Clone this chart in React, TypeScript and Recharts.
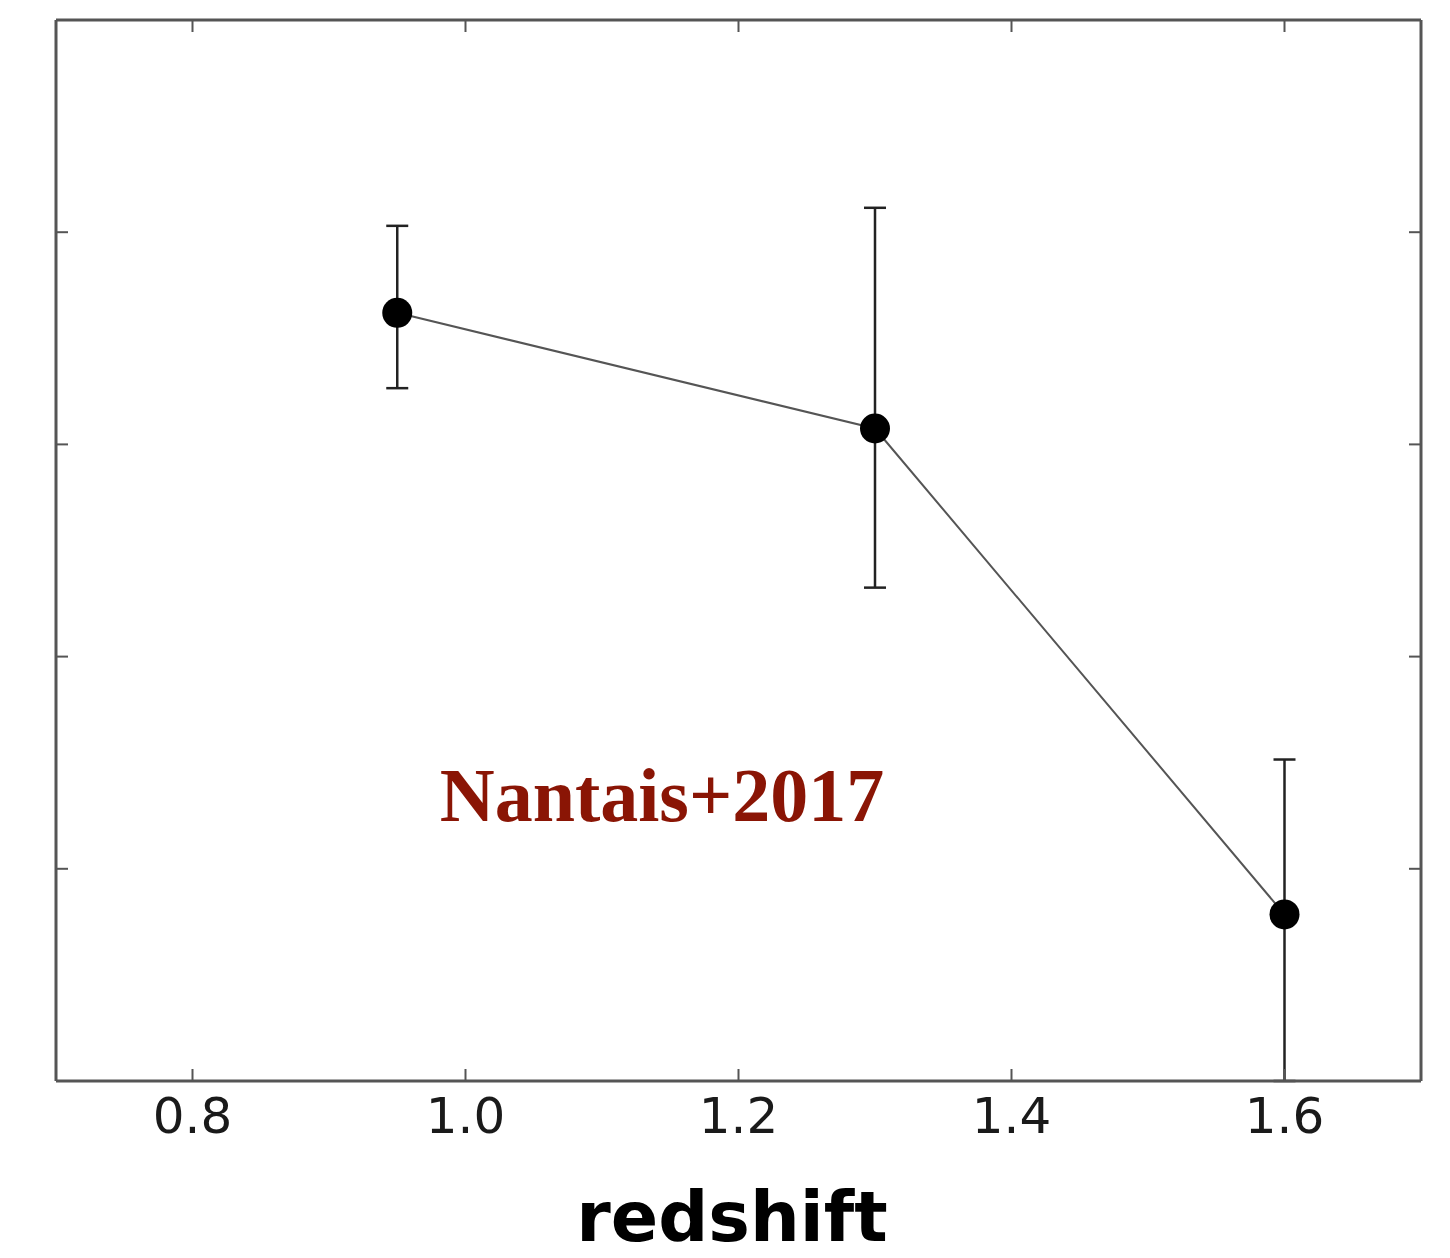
import React from "react";
import { ComposedChart, Line, XAxis, YAxis, ErrorBar } from "recharts";

// redshift bins and measured values with asymmetric errors
const redshift = [0.95, 1.3, 1.6];
const value = [0.724, 0.615, 0.157];
const errLow = [0.071, 0.15, 0.157];
const errHigh = [0.082, 0.208, 0.146];

const xTicks = [0.8, 1.0, 1.2, 1.4, 1.6];
const yTicks = [0.2, 0.4, 0.6, 0.8];

const data = redshift.map((z, i) => ({
  z,
  v: value[i],
  err: [errLow[i], errHigh[i]],
}));

const FRAME = "#555";
const TICK_LEN = 12;

function BottomTick(props: any) {
  const { x, y, payload } = props;
  return (
    <g>
      <line x1={x} y1={y} x2={x} y2={y - TICK_LEN} stroke={FRAME} strokeWidth={2} />
      <text
        x={x}
        y={y + 52}
        textAnchor="middle"
        fontFamily="DejaVu Sans"
        fontSize={50}
        fill="#1a1a1a"
      >
        {Number(payload.value).toFixed(1)}
      </text>
    </g>
  );
}

function TopTick(props: any) {
  const { x, y } = props;
  return <line x1={x} y1={y} x2={x} y2={y + TICK_LEN} stroke={FRAME} strokeWidth={2} />;
}

function LeftTick(props: any) {
  const { x, y } = props;
  return <line x1={x} y1={y} x2={x + TICK_LEN} y2={y} stroke={FRAME} strokeWidth={2} />;
}

function RightTick(props: any) {
  const { x, y } = props;
  return <line x1={x} y1={y} x2={x - TICK_LEN} y2={y} stroke={FRAME} strokeWidth={2} />;
}

export default function App() {
  const axisLine = { stroke: FRAME, strokeWidth: 3 };
  return (
    <div style={{ position: "absolute", left: 0, top: 0, width: 1450, height: 1258, background: "#fff" }}>
      <ComposedChart
        width={1450}
        height={1258}
        data={data}
        margin={{ top: 10, right: 19, bottom: 117, left: 46 }}
      >
        <XAxis
          dataKey="z"
          type="number"
          domain={[0.7, 1.7]}
          allowDataOverflow
          ticks={xTicks}
          height={60}
          tickSize={0}
          tickMargin={0}
          tickLine={false}
          axisLine={axisLine}
          tick={<BottomTick />}
        />
        <XAxis
          xAxisId="top"
          orientation="top"
          dataKey="z"
          type="number"
          domain={[0.7, 1.7]}
          allowDataOverflow
          ticks={xTicks}
          height={10}
          tickSize={0}
          tickMargin={0}
          tickLine={false}
          axisLine={axisLine}
          tick={<TopTick />}
        />
        <YAxis
          type="number"
          domain={[0, 1]}
          allowDataOverflow
          ticks={yTicks}
          width={10}
          tickSize={0}
          tickMargin={0}
          tickLine={false}
          axisLine={axisLine}
          tick={<LeftTick />}
        />
        <YAxis
          yAxisId="right"
          orientation="right"
          type="number"
          domain={[0, 1]}
          allowDataOverflow
          ticks={yTicks}
          width={10}
          tickSize={0}
          tickMargin={0}
          tickLine={false}
          axisLine={axisLine}
          tick={<RightTick />}
        />
        <Line
          dataKey="v"
          type="linear"
          stroke="#555"
          strokeWidth={2}
          dot={{ r: 15, fill: "#000", stroke: "#000", strokeWidth: 0 }}
          activeDot={false}
          isAnimationActive={false}
        >
          <ErrorBar dataKey="err" width={11} stroke="#222" strokeWidth={2.5} isAnimationActive={false} />
        </Line>
      </ComposedChart>
      <div
        style={{
          position: "absolute",
          left: 0,
          top: 752,
          width: 1324,
          textAlign: "center",
          fontFamily: "'Liberation Serif', serif",
          fontWeight: "bold",
          fontSize: 76,
          lineHeight: "86px",
          color: "#8a1505",
          whiteSpace: "nowrap",
        }}
      >
        Nantais+2017
      </div>
      <div
        style={{
          position: "absolute",
          left: 0,
          top: 1176,
          width: 1464,
          textAlign: "center",
          fontFamily: "'DejaVu Sans', sans-serif",
          fontWeight: "bold",
          fontSize: 70,
          lineHeight: "82px",
          color: "#000",
          whiteSpace: "nowrap",
        }}
      >
        redshift
      </div>
    </div>
  );
}
